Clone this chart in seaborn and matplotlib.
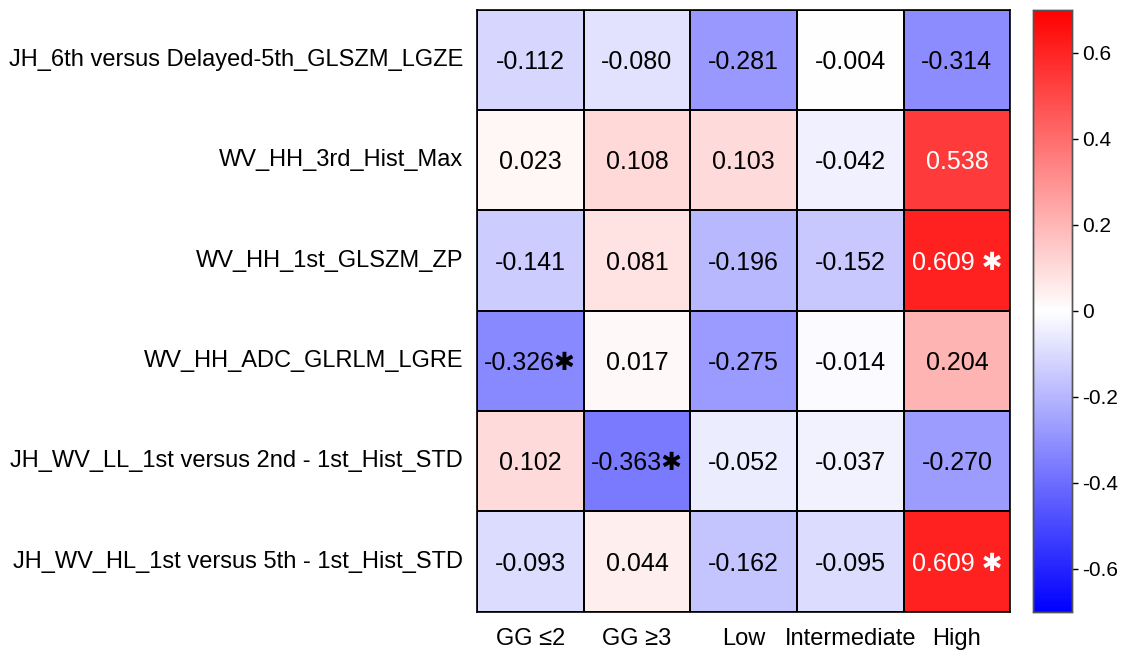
import matplotlib
matplotlib.use("Agg")
import matplotlib.pyplot as plt
import seaborn as sns
import pandas as pd
import numpy as np

features = [
    "JH_6th versus Delayed-5th_GLSZM_LGZE",
    "WV_HH_3rd_Hist_Max",
    "WV_HH_1st_GLSZM_ZP",
    "WV_HH_ADC_GLRLM_LGRE",
    "JH_WV_LL_1st versus 2nd - 1st_Hist_STD",
    "JH_WV_HL_1st versus 5th - 1st_Hist_STD",
]
groups = ["GG \u22642", "GG \u22653", "Low", "Intermediate", "High"]

gg_le2 = [-0.112, 0.023, -0.141, -0.326, 0.102, -0.093]
gg_ge3 = [-0.080, 0.108, 0.081, 0.017, -0.363, 0.044]
low = [-0.281, 0.103, -0.196, -0.275, -0.052, -0.162]
intermediate = [-0.004, -0.042, -0.152, -0.014, -0.037, -0.095]
high = [-0.314, 0.538, 0.609, 0.204, -0.270, 0.609]

# significant cells (row, col)
significant = [(2, 4), (3, 0), (4, 1), (5, 4)]

df = pd.DataFrame(
    np.column_stack([gg_le2, gg_ge3, low, intermediate, high]),
    index=features, columns=groups,
)

sns.set_style("white")
plt.rcParams["font.family"] = ["Liberation Sans", "DejaVu Sans"]
plt.rcParams["axes.unicode_minus"] = False
plt.rcParams["text.color"] = "black"
plt.rcParams["xtick.color"] = "black"
plt.rcParams["ytick.color"] = "black"

labels = df.map(lambda v: f"{v:.3f}").values.astype(object)
for r, c in significant:
    sep = " " if df.iloc[r, c] > 0.5 else ""
    labels[r, c] = labels[r, c] + sep + "\u2731"

fig = plt.figure(figsize=(11.25, 6.55), dpi=100)
ax = fig.add_axes([0.424, 0.066, 0.474, 0.919])
cax = fig.add_axes([0.918, 0.066, 0.035, 0.919])

sns.heatmap(
    df, ax=ax, cbar_ax=cax, cmap="bwr", vmin=-0.7, vmax=0.7,
    annot=labels, fmt="", linewidths=1.2, linecolor="black",
    annot_kws={"fontsize": 18},
)

for t in ax.texts:
    try:
        val = float(t.get_text().replace("\u2731", "").strip())
    except ValueError:
        continue
    t.set_color("white" if val > 0.5 else "black")
    t.set_y(t.get_position()[1] + 0.02)

for s in ax.spines.values():
    s.set_visible(True)
    s.set_linewidth(1.2)
    s.set_color("black")

ax.tick_params(axis="both", length=0, labelsize=17, colors="black")
ax.tick_params(axis="y", pad=10)
ax.tick_params(axis="x", pad=12)
ax.set_yticklabels(features, rotation=0)
ax.set_xticklabels(groups, rotation=0)
ax.set_xlabel("")
ax.set_ylabel("")

ticks = [-0.6, -0.4, -0.2, 0, 0.2, 0.4, 0.6]
cax.set_yticks(ticks)
cax.set_yticklabels(["0" if v == 0 else f"{v:.1f}" for v in ticks])
cax.tick_params(labelsize=15, length=4, width=1, direction="out", colors="black")
for s in cax.spines.values():
    s.set_visible(True)
    s.set_color("#555555")
    s.set_linewidth(1)

fig.savefig("out.png", dpi=100)
